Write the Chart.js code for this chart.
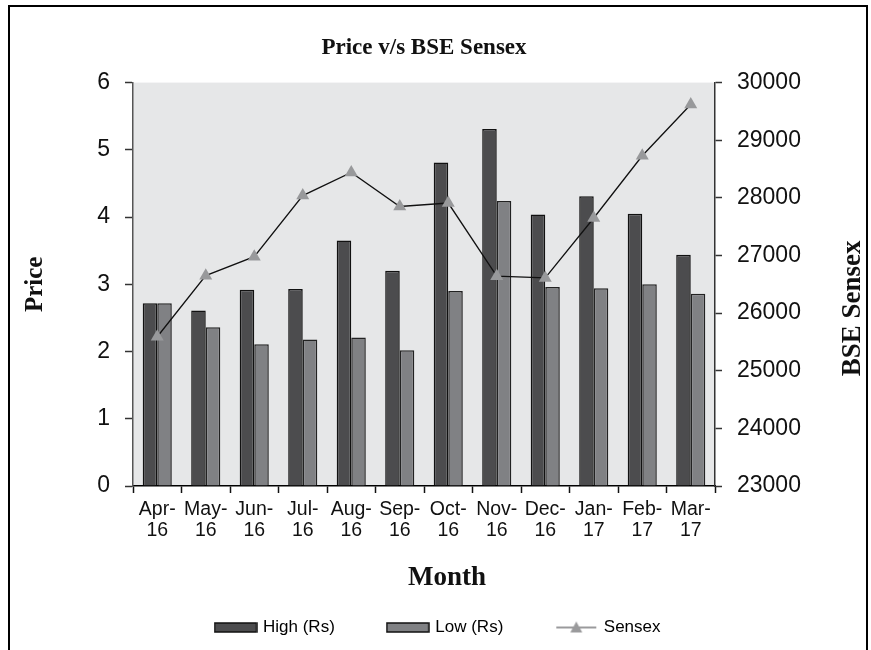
<!DOCTYPE html>
<html lang="en">
<head>
    <meta charset="UTF-8">
    <title>Price v/s BSE Sensex</title>
    <style>
        html, body { margin: 0; padding: 0; background: #fff; }
        #wrap { width: 871px; height: 650px; position: relative; }
    </style>
</head>
<body>

    <div id="wrap"><canvas id="priceChart" width="871" height="650"></canvas></div>

    <script src="https://cdn.jsdelivr.net/npm/chart.js"></script>

    <script>
        // data
        const months = ['Apr-16', 'May-16', 'Jun-16', 'Jul-16', 'Aug-16', 'Sep-16',
                        'Oct-16', 'Nov-16', 'Dec-16', 'Jan-17', 'Feb-17', 'Mar-17'];
        const highRs = [2.72, 2.61, 2.92, 2.93, 3.65, 3.20, 4.81, 5.31, 4.04, 4.31, 4.05, 3.44];
        const lowRs  = [2.72, 2.36, 2.11, 2.18, 2.21, 2.02, 2.90, 4.24, 2.96, 2.94, 3.00, 2.86];
        const sensex = [25590, 26650, 26980, 28040, 28440, 27850, 27910, 26640, 26610, 27650, 28730, 29620];

        const W = 871, H = 650;
        const AREA = { left: 133, right: 715, bottom: 486 };
        const sans = "'Liberation Sans', Arial, sans-serif";
        const serif = "'Liberation Serif', 'Times New Roman', serif";

        // small images used as legend markers
        function boxIcon(fill) {
            const c = document.createElement('canvas');
            c.width = 44; c.height = 11;
            const g = c.getContext('2d');
            g.fillStyle = fill;
            g.fillRect(1, 1, 42, 9);
            g.strokeStyle = '#111';
            g.lineWidth = 1.5;
            g.strokeRect(1, 1, 42, 9);
            return c;
        }
        function lineIcon() {
            const c = document.createElement('canvas');
            c.width = 42; c.height = 14;
            const g = c.getContext('2d');
            g.strokeStyle = '#9a9a9c';
            g.lineWidth = 2;
            g.beginPath(); g.moveTo(1, 7); g.lineTo(41, 7); g.stroke();
            g.fillStyle = '#9a9a9c';
            g.beginPath(); g.moveTo(21, 1); g.lineTo(27, 12); g.lineTo(15, 12); g.closePath(); g.fill();
            return c;
        }
        const icons = [boxIcon('#4c4c4e'), boxIcon('#808184'), lineIcon()];

        function rotatedText(ctx, text, x, y, angle, size) {
            ctx.save();
            ctx.translate(x, y);
            ctx.rotate(angle);
            ctx.font = 'bold ' + size + 'px ' + serif;
            ctx.fillStyle = '#111';
            ctx.textAlign = 'center';
            ctx.textBaseline = 'middle';
            ctx.fillText(text, 0, 0);
            ctx.restore();
        }

        const frame = {
            id: 'frame',
            beforeDraw(chart) {
                const { ctx, chartArea: a } = chart;
                ctx.save();
                ctx.fillStyle = '#e6e7e8';
                ctx.fillRect(a.left, a.top, a.right - a.left, a.bottom - a.top);
                ctx.strokeStyle = '#000';
                ctx.lineWidth = 2;
                ctx.strokeRect(9, 6, 858, 700);
                ctx.restore();
            },
            afterDraw(chart) {
                // axis titles placed as in the reference (right one reads bottom-to-top)
                const { ctx, chartArea: a } = chart;
                rotatedText(ctx, 'BSE Sensex', 853, (a.top + a.bottom) / 2 + 24, -Math.PI / 2, 27);
                rotatedText(ctx, 'Month', 447, 578, 0, 27);
            }
        };

        const ctx = document.getElementById('priceChart').getContext('2d');
        const priceChart = new Chart(ctx, {
            type: 'bar',
            data: {
                labels: months.map(m => [m.slice(0, 4), m.slice(4)]),
                datasets: [{
                    label: 'High (Rs)',
                    data: highRs,
                    backgroundColor: '#4c4c4e',
                    borderColor: '#111',
                    borderWidth: 1.5,
                    yAxisID: 'y',
                    order: 1
                }, {
                    label: 'Low (Rs)',
                    data: lowRs,
                    backgroundColor: '#808184',
                    borderColor: '#222',
                    borderWidth: 1.5,
                    yAxisID: 'y',
                    order: 1
                }, {
                    type: 'line',
                    label: 'Sensex',
                    data: sensex,
                    borderColor: '#111',
                    borderWidth: 1.3,
                    pointStyle: 'triangle',
                    pointRadius: 7.5,
                    pointBackgroundColor: '#98999b',
                    pointBorderWidth: 0,
                    yAxisID: 'y1',
                    order: 0
                }]
            },
            options: {
                responsive: false,
                animation: false,
                devicePixelRatio: 1,
                categoryPercentage: 0.6,
                barPercentage: 1.0,
                layout: { padding: { left: 6, right: 0, top: 0, bottom: 4 } },
                plugins: {
                    title: {
                        display: true,
                        text: 'Price v/s BSE Sensex',
                        fullSize: false,
                        color: '#111',
                        font: { family: serif, size: 23, weight: 'bold' },
                        padding: { top: 34, bottom: 21 }
                    },
                    legend: {
                        position: 'bottom',
                        labels: {
                            usePointStyle: true,
                            pointStyleWidth: 38,
                            padding: 54,
                            color: '#111',
                            font: { family: sans, size: 17 },
                            generateLabels: (chart) => chart.data.datasets.map((ds, i) => ({
                                text: ds.label,
                                pointStyle: icons[i],
                                fillStyle: 'transparent',
                                strokeStyle: 'transparent',
                                lineWidth: 0,
                                datasetIndex: i,
                                hidden: false
                            }))
                        }
                    },
                    tooltip: { enabled: false }
                },
                scales: {
                    x: {
                        grid: { drawOnChartArea: false, tickLength: 7, color: '#111', tickWidth: 1.5 },
                        border: { color: '#000', width: 1.5 },
                        ticks: {
                            color: '#111',
                            padding: 7,
                            maxRotation: 0,
                            autoSkip: false,
                            font: { family: sans, size: 19.5, lineHeight: 1.03 }
                        },
                        afterFit(scale) {
                            scale.height = H - AREA.bottom - scale.chart.legend.height - 4;
                        }
                    },
                    y: {
                        position: 'left',
                        min: 0,
                        max: 6,
                        ticks: {
                            stepSize: 1,
                            color: '#111',
                            padding: 15,
                            font: { family: sans, size: 23 }
                        },
                        grid: { drawOnChartArea: false, tickLength: 8, color: '#333', tickWidth: 1.5 },
                        border: { color: '#555', width: 1.5 },
                        title: {
                            display: true,
                            text: 'Price',
                            color: '#111',
                            font: { family: serif, size: 25, weight: 'bold' },
                            padding: { top: 15, bottom: 0 }
                        },
                        afterFit(scale) { scale.width = AREA.left - 6; }
                    },
                    y1: {
                        position: 'right',
                        min: 23000,
                        max: 30000,
                        ticks: {
                            stepSize: 1000,
                            color: '#111',
                            padding: 15,
                            font: { family: sans, size: 23 },
                            callback: (v) => String(v)
                        },
                        grid: { drawOnChartArea: false, tickLength: 7, color: '#333', tickWidth: 1.5 },
                        border: { color: '#333', width: 1.5 },
                        afterFit(scale) { scale.width = W - AREA.right; }
                    }
                }
            },
            plugins: [frame]
        });
    </script>

</body>
</html>
